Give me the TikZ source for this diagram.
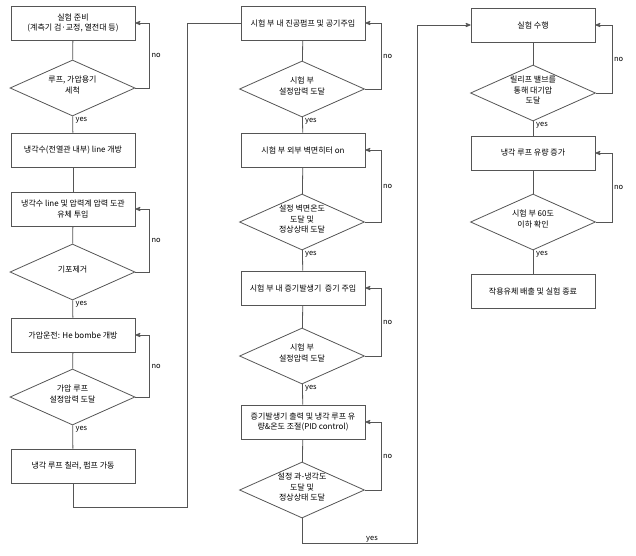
\documentclass[tikz,border=0pt]{standalone}
\usepackage{fontspec}
\setmainfont{Noto Sans CJK KR}
\usepackage{tikz}
\usetikzlibrary{shapes.geometric}
\usetikzlibrary{arrows}
\usetikzlibrary{calc}
\definecolor{linegray}{RGB}{85,85,85}
\newcommand{\dlab}[1]{\makebox[0pt]{\smash{\begin{tabular}[c]{@{}c@{}}#1\end{tabular}}}}
\tikzset{
	step box/.style={rectangle,draw=linegray,line width=0.8pt,align=center,
		minimum width=124pt,minimum height=34pt,inner sep=1pt,font=\fontsize{8}{10.5}\selectfont},
	check node/.style={diamond,draw=linegray,line width=0.8pt,inner sep=0pt,
		minimum width=125pt,minimum height=56pt,font=\fontsize{8}{10.5}\selectfont},
	yes label/.style={anchor=north west,inner sep=1pt,font=\fontsize{7.5}{9}\selectfont},
	no label/.style={anchor=west,inner sep=2pt,font=\fontsize{7.5}{9}\selectfont},
	flow/.style={draw=linegray,line width=0.8pt}
}

\begin{document}
\begin{tikzpicture}[x=1pt,y=-1pt,>=stealth']
	\useasboundingbox (0,0) rectangle (636,555);
	% first column
	\node [step box] (b1) at (73,23) {실험 준비\\(계측기 검·교정, 열전대 등)};
	\node [check node] (d1) at (72.5,88) {\dlab{루프, 가압용기\\세척}};
	\node [step box] (b2) at (73,150) {냉각수(전열관 내부) line 개방};
	\node [step box] (b3) at (73,209) {냉각수 line 및 압력계 압력 도관\\유체 투입};
	\node [check node] (d2) at (72.5,272) {\dlab{기포제거}};
	\node [step box] (b4) at (73,335) {가압운전: He bombe 개방};
	\node [check node] (d3) at (72.5,397) {\dlab{가압 루프\\설정압력 도달}};
	\node [step box] (b5) at (73,466) {냉각 루프 칠러, 펌프 가동};
	% second column
	\node [step box] (b6) at (303,23) {시험 부 내 진공펌프 및 공기주입};
	\node [check node] (d4) at (302,89) {\dlab{시험 부\\설정압력 도달}};
	\node [step box] (b7) at (303,150) {시험 부 외부 벽면히터 on};
	\node [check node] (d5) at (302,222) {\dlab{설정 벽면온도\\도달 및\\정상상태 도달}};
	\node [step box] (b8) at (303,288) {시험 부 내 증기발생기\ \ 증기 주입};
	\node [check node] (d6) at (302,356) {\dlab{시험 부\\설정압력 도달}};
	\node [step box] (b9) at (303,422) {증기발생기 출력 및 냉각 루프 유\\량\&온도 조절(PID control)};
	\node [check node] (d7) at (302,490) {\dlab{설정 과-냉각도\\도달 및\\정상상태 도달}};
	% third column
	\node [step box] (b10) at (533,25) {실험 수행};
	\node [check node] (d8) at (533,93) {\dlab{릴리프 밸브를\\통해 대기압\\도달}};
	\node [step box] (b11) at (533,153) {냉각 루프 유량 증가};
	\node [check node] (d9) at (533,222) {\dlab{시험 부 60도\\이하 확인}};
	\node [step box] (b12) at (533,291) {작용유체 배출 및 실험 종료};
	% straight runs
	\foreach \a/\b in {b1/d1,d1/b2,b2/b3,b3/d2,d2/b4,b4/d3,d3/b5,b6/d4,d4/b7,b7/d5,d5/b8,b8/d6,d6/b9,b9/d7,b10/d8,d8/b11,b11/d9,d9/b12}
		\draw [flow] (\a) -- (\b);
	% yes labels
	\foreach \d in {d1,d2,d3,d4,d5,d6,d8,d9}
		\node [yes label] at ([xshift=2pt]\d.south) {yes};
	% no loops
	\foreach \d/\b/\x in {d1/b1/14,d2/b3/14,d3/b4/14,d4/b6/16,d5/b7/16,d6/b8/16,d7/b9/16,d8/b10/16,d9/b11/16}{
		\draw [flow,->] (\d.east) -- ++(\x,0) coordinate (c\d) |- (\b.east);
		\node [no label] at ($(c\d)!0.5!(c\d |- \b.east)$) {no};
	}
	% links between columns
	\coordinate (k1) at (187,507);
	\coordinate (k2) at (417,543);
	\draw [flow] (b5.south) |- (k1) |- (b6.west);
	\draw [flow,->] (d7.south) |- (k2) |- (b10.west);
	\node [yes label,anchor=south] at ([xshift=-45pt]k2) {yes};
\end{tikzpicture}
\end{document}
